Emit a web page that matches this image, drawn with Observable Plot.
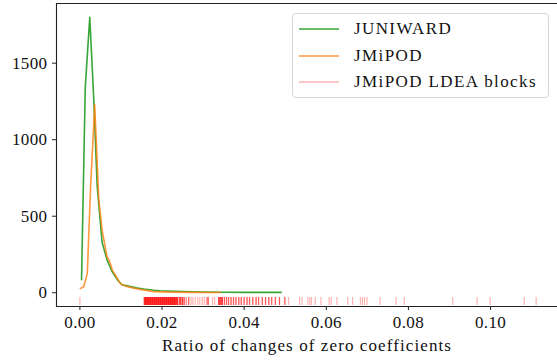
<!DOCTYPE html>
<html>
<head>
<meta charset="utf-8">
<script src="https://cdn.jsdelivr.net/npm/d3@7"></script>
<script src="https://cdn.jsdelivr.net/npm/@observablehq/plot@0.6"></script>
<style>
  html, body { margin: 0; padding: 0; background: #fff; overflow: hidden; }
  #wrap { position: relative; width: 557px; height: 360px; }
  #chart svg, #chart svg text { font-family: "Liberation Serif", serif !important; }
  #chart svg g[aria-label="x-axis tick label"] text,
  #chart svg g[aria-label="y-axis tick label"] text { font-size: 17px; letter-spacing: 0.4px; }
  #chart svg g[aria-label="x-axis label"] text { font-size: 17px; letter-spacing: 1.1px; }
  #legend {
    position: absolute; left: 292px; top: 13px; width: 257px; height: 85px;
    box-sizing: border-box; border: 1px solid #d6d6d6; border-radius: 4px;
    background: rgba(255,255,255,0.85);
    font-family: "Liberation Serif", serif; font-size: 17px; letter-spacing: 1.4px; color: #111;
  }
  #legend .row { position: absolute; left: 6px; height: 20px; display: flex; align-items: center; }
  #legend .row span { margin-left: 15px; }
</style>
</head>
<body>
<div id="wrap">
  <div id="chart"></div>
  <div id="legend"></div>
</div>
<script>
// JUNIWARD histogram curve
const juniX = [0.0004, 0.0013, 0.0024, 0.0034, 0.0042, 0.0054, 0.0066, 0.0078, 0.0094, 0.0103, 0.0123, 0.0140, 0.0155, 0.0180, 0.0196, 0.0250, 0.0300, 0.0350, 0.0400, 0.0490];
const juniY = [85, 1340, 1800, 1250, 700, 330, 215, 140, 75, 52, 40, 30, 24, 16, 13, 8, 5, 3, 2, 2];

// JMiPOD histogram curve
const jmiX = [0.0001, 0.0009, 0.0018, 0.0026, 0.0036, 0.0046, 0.0054, 0.0066, 0.0071, 0.0079, 0.0098, 0.0103, 0.0123, 0.0147, 0.0180, 0.0220, 0.0280, 0.0342];
const jmiY = [28, 38, 125, 690, 1230, 610, 410, 235, 215, 148, 62, 50, 35, 22, 7, 4, 2, 1];

// JMiPOD LDEA blocks (rug): position and number of overlapping blocks
const rugX = [0.0000,
  0.0157, 0.0160, 0.0162, 0.0165, 0.0167, 0.0170, 0.0172, 0.0175, 0.0177, 0.0180, 0.0182, 0.0185, 0.0187, 0.0190, 0.0192, 0.0195, 0.0197,
  0.0200, 0.0202, 0.0205, 0.0207, 0.0210, 0.0212, 0.0215, 0.0217, 0.0220, 0.0222, 0.0225, 0.0227, 0.0230, 0.0232, 0.0235, 0.0238,
  0.0243, 0.0246, 0.0250, 0.0254, 0.0259, 0.0265, 0.0271, 0.0275, 0.0281, 0.0287, 0.0292, 0.0298, 0.0303, 0.0308,
  0.0312, 0.0323, 0.0328, 0.0338, 0.0341, 0.0344, 0.0347, 0.0352, 0.0357, 0.0362, 0.0368, 0.0374, 0.0380, 0.0387, 0.0393,
  0.0400, 0.0407, 0.0413, 0.0421, 0.0429, 0.0435, 0.0444, 0.0452, 0.0460, 0.0467, 0.0476, 0.0486, 0.0499,
  0.0508, 0.0535, 0.0541, 0.0555, 0.0560, 0.0564, 0.0573, 0.0587, 0.0607, 0.0612, 0.0626, 0.0652, 0.0664,
  0.0683, 0.0688, 0.0693, 0.0699, 0.0731, 0.0770, 0.0790, 0.0908, 0.0967, 0.0999, 0.1082, 0.1111];
const rugN = [1,
  5, 5, 5, 5, 5, 5, 5, 5, 5, 5, 5, 5, 5, 5, 5, 5, 5,
  5, 5, 5, 5, 5, 5, 5, 5, 5, 5, 5, 5, 5, 5, 5, 5,
  4, 4, 4, 3, 2, 3, 1, 1, 1, 1, 1, 1, 1, 1,
  4, 1, 1, 4, 4, 4, 4, 3, 3, 3, 3, 3, 3, 3, 3,
  3, 3, 3, 3, 3, 3, 3, 3, 3, 3, 3, 3, 3,
  1, 1, 1, 1, 1, 1, 1, 1, 1, 1, 1, 1, 1,
  1, 1, 1, 1, 1, 1, 1, 1, 1, 1, 1, 1];

const xTicks = [0, 0.02, 0.04, 0.06, 0.08, 0.10];
const yTicks = [0, 500, 1000, 1500];

const series = [
  {name: "JUNIWARD", color: "#2ca02c", opacity: 0.95},
  {name: "JMiPOD", color: "#ff7f0e", opacity: 0.8},
  {name: "JMiPOD LDEA blocks", color: "#ff0000", opacity: 0.3}
];

const juni = juniX.map((x, i) => ({x, y: juniY[i]}));
const jmi = jmiX.map((x, i) => ({x, y: jmiY[i]}));
const rug = rugX.flatMap((x, i) => d3.range(rugN[i]).map(() => ({x})));

const W = 557, H = 360, mT = 3, mB = 54, mL = 56, mR = 0;
const innerH = H - mT - mB;

const chart = Plot.plot({
  width: W, height: H,
  marginTop: mT, marginBottom: mB, marginLeft: mL, marginRight: mR,
  style: {fontFamily: "'Liberation Serif', serif", fontSize: "17px", color: "#111", background: "#fff"},
  x: {domain: [-0.0057, 0.1163]},
  y: {domain: [-90, 1890]},
  marks: [
    Plot.ruleX(rug, {x: "x", stroke: series[2].color, strokeOpacity: series[2].opacity, strokeWidth: 1.2, insetTop: innerH - 9, insetBottom: 1}),
    Plot.line(juni, {x: "x", y: "y", stroke: series[0].color, strokeOpacity: series[0].opacity, strokeWidth: 1.6}),
    Plot.line(jmi, {x: "x", y: "y", stroke: series[1].color, strokeOpacity: series[1].opacity, strokeWidth: 1.6}),
    Plot.axisX({ticks: xTicks, tickFormat: d3.format(".2f"), tickSize: 4, tickPadding: 5, stroke: "#222",
      fontFamily: "Liberation Serif", fontSize: 17,
      label: "Ratio of changes of zero coefficients", labelAnchor: "center", labelOffset: 44, labelArrow: "none"}),
    Plot.axisY({ticks: yTicks, tickFormat: d3.format("d"), tickSize: 4, tickPadding: 5, stroke: "#222",
      fontFamily: "Liberation Serif", fontSize: 17, label: null}),
    Plot.frame({anchor: "left", stroke: "#222", strokeWidth: 1.1}),
    Plot.frame({anchor: "bottom", stroke: "#222", strokeWidth: 1.1}),
    Plot.frame({anchor: "top", stroke: "#222", strokeWidth: 1.1})
  ]
});
document.getElementById("chart").appendChild(chart);

const legend = document.getElementById("legend");
series.forEach((s, i) => {
  const row = document.createElement("div");
  row.className = "row";
  row.style.top = (5 + i * 26.6) + "px";
  row.innerHTML = `<svg width="40" height="4"><line x1="0" x2="40" y1="2" y2="2" stroke="${s.color}" stroke-opacity="${s.opacity}" stroke-width="1.6"/></svg><span>${s.name}</span>`;
  legend.appendChild(row);
});
</script>
</body>
</html>
